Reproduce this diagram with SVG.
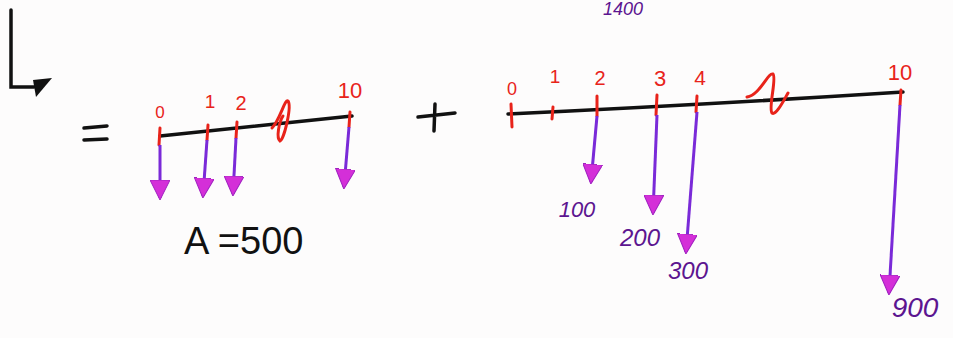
<svg xmlns="http://www.w3.org/2000/svg" width="953" height="338" viewBox="0 0 953 338">
<defs>
<style>
.line{stroke:#111;stroke-width:3.5;fill:none;stroke-linecap:round}
.tick{stroke:#e8231a;stroke-width:3;fill:none;stroke-linecap:round}
.red{fill:#e8231a;font-family:"Liberation Sans",sans-serif}
.shaft{stroke:#7a2ad8;stroke-width:3;fill:none}
.pur{fill:#5c1590;font-family:"Liberation Sans",sans-serif;font-style:italic}
.blk{fill:#111;font-family:"Liberation Sans",sans-serif}
</style>
<marker id="ah" viewBox="0 0 20 20" refX="18" refY="10" markerWidth="20" markerHeight="20" markerUnits="userSpaceOnUse" orient="auto">
<path d="M0,0 L20,10 L0,20 Z" fill="#d42fd8" stroke="#a020c0" stroke-width="1"/>
</marker>
</defs>
<rect width="953" height="338" fill="#fdfcfc"/>
<g id="corner-arrow">
<path d="M11,10 L11,87 L34,87" class="line"/>
<path d="M33,80 L52,78 L36,97 Z" fill="#111"/>
</g>
<g id="equals"><path d="M84,128 L107,126 M84,140 L107,139" class="line" stroke-width="3"/></g>
<g id="plus"><path d="M418,117 L455,113 M435,104 L434,131" class="line" stroke-width="3"/></g>
<g id="left-timeline">
<path d="M160,136 L352,116" class="line"/>
<path d="M160,128 L159,145 M208,125 L207,140 M237,122 L236,138 M350,112 L349,127" class="tick"/>
<path d="M272,128 C280,120 285,98 288,101 C292,106 284,140 280,141 C276,138 279,122 283,116" class="tick"/>
<text x="160" y="118" class="red" font-size="17" text-anchor="middle">0</text>
<text x="210" y="108" class="red" font-size="19" text-anchor="middle">1</text>
<text x="241" y="110" class="red" font-size="20" text-anchor="middle">2</text>
<text x="350" y="98" class="red" font-size="22" text-anchor="middle">10</text>
<text x="184" y="254" class="blk" font-size="38">A =500</text>
</g>
<g id="right-timeline">
<path d="M508,114 Q700,105 903,92" class="line"/>
<path d="M511,104 L512,127 M553,107 L552,119 M597,96 L597,116 M657,95 L656,115 M697,96 L696,112 M901,90 L900,105" class="tick"/>
<path d="M747,97 C760,95 768,72 773,74 C777,78 768,108 772,113 C776,116 784,100 788,93" class="tick"/>
<text x="512" y="95" class="red" font-size="18" text-anchor="middle">0</text>
<text x="555" y="83" class="red" font-size="19" text-anchor="middle">1</text>
<text x="600" y="85" class="red" font-size="20" text-anchor="middle">2</text>
<text x="660" y="86" class="red" font-size="22" text-anchor="middle">3</text>
<text x="700" y="85" class="red" font-size="21" text-anchor="middle">4</text>
<text x="900" y="80" class="red" font-size="22" text-anchor="middle">10</text>
<text x="577" y="217" class="pur" font-size="22" text-anchor="middle">100</text>
<text x="640" y="246" class="pur" font-size="24" text-anchor="middle">200</text>
<text x="688" y="279" class="pur" font-size="24" text-anchor="middle">300</text>
<text x="915" y="317" class="pur" font-size="28" text-anchor="middle">900</text>
<text x="623" y="15" class="pur" font-size="18" text-anchor="middle">1400</text>
</g>
<g id="connectors">
<path d="M160,145 L160,198" class="shaft" marker-end="url(#ah)"/>
<path d="M207,140 L203,196" class="shaft" marker-end="url(#ah)"/>
<path d="M236,138 L233,194" class="shaft" marker-end="url(#ah)"/>
<path d="M349,127 L344,187" class="shaft" marker-end="url(#ah)"/>
<path d="M597,116 L591,182" class="shaft" marker-end="url(#ah)"/>
<path d="M657,115 L653,213" class="shaft" marker-end="url(#ah)"/>
<path d="M697,112 L686,252" class="shaft" marker-end="url(#ah)"/>
<path d="M900,105 L889,293" class="shaft" marker-end="url(#ah)"/>
</g>
</svg>
